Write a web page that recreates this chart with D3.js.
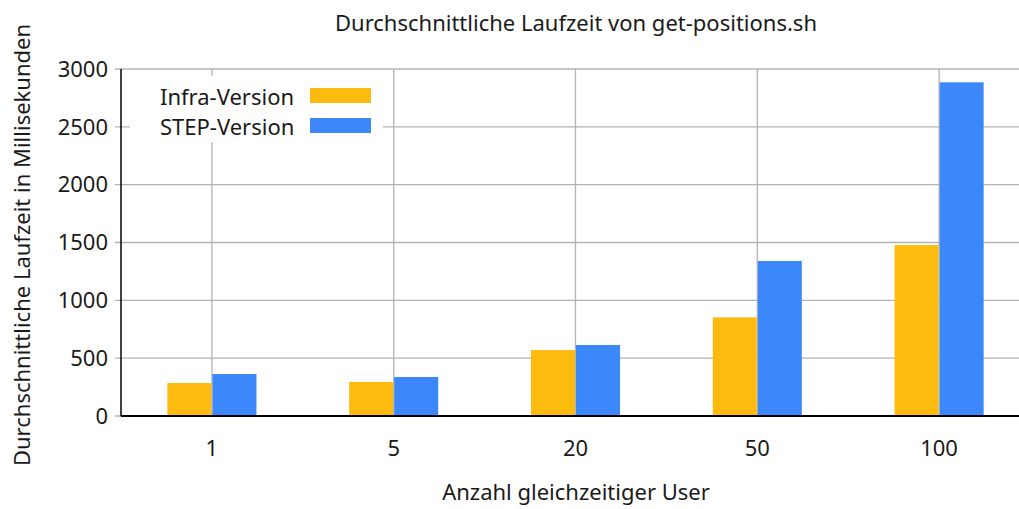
<!DOCTYPE html>
<html>
<head>
<meta charset="utf-8">
<script src="https://cdn.jsdelivr.net/npm/d3@7"></script>
<style>
  body { margin: 0; background: #fff; }
  svg { display: block; font-family: "Noto Sans", sans-serif; }
</style>
</head>
<body>
<svg id="chart" width="1019" height="509"></svg>
<script>
const categories = ["1", "5", "20", "50", "100"];
const seriesNames = ["Infra-Version", "STEP-Version"];
const infraValues = [285, 294, 570, 853, 1478];
const stepValues = [363, 337, 614, 1340, 2885];
const yTicks = [0, 500, 1000, 1500, 2000, 2500, 3000];
const colors = ["#fdbb10", "#3c88fb"];

const margin = { top: 69, right: -11, bottom: 93, left: 121 };
const width = 1019 - margin.left - margin.right;
const height = 509 - margin.top - margin.bottom;
const fs = 22;

const svg = d3.select("#chart");
const g = svg.append("g").attr("transform", `translate(${margin.left},${margin.top})`);

const x = d3.scaleBand().domain(categories).range([0, width]).padding(0);
const y = d3.scaleLinear().domain([0, 3000]).range([height, 0]);
const xInner = d3.scaleBand().domain(seriesNames).range([x.bandwidth() * 0.255, x.bandwidth() * 0.745]).padding(0);

// horizontal grid
g.append("g")
  .selectAll("line")
  .data(yTicks)
  .join("line")
  .attr("x1", -6).attr("x2", width)
  .attr("y1", d => y(d)).attr("y2", d => y(d))
  .attr("stroke", "#b3b3b3").attr("stroke-width", 1.3);

// vertical grid at category centres
g.append("g")
  .selectAll("line")
  .data(categories)
  .join("line")
  .attr("x1", d => x(d) + x.bandwidth() / 2).attr("x2", d => x(d) + x.bandwidth() / 2)
  .attr("y1", 0).attr("y2", height)
  .attr("stroke", "#b3b3b3").attr("stroke-width", 1.3);

// bars
const data = categories.map((c, i) => ({ cat: c, values: [infraValues[i], stepValues[i]] }));
g.append("g")
  .selectAll("g")
  .data(data)
  .join("g")
  .attr("transform", d => `translate(${x(d.cat)},0)`)
  .selectAll("rect")
  .data(d => d.values.map((v, i) => ({ name: seriesNames[i], value: v, i })))
  .join("rect")
  .attr("x", d => xInner(d.name) + (d.i ? 0.5 : 0))
  .attr("width", d => xInner.bandwidth() - 0.5)
  .attr("y", d => y(d.value))
  .attr("height", d => height - y(d.value))
  .attr("fill", d => colors[d.i]);

// axes lines
g.append("line").attr("x1", 0).attr("x2", 0).attr("y1", 0).attr("y2", height)
  .attr("stroke", "#000").attr("stroke-width", 1.5);
g.append("line").attr("x1", 0).attr("x2", width).attr("y1", height).attr("y2", height)
  .attr("stroke", "#000").attr("stroke-width", 1.8);

// y tick labels
g.append("g")
  .selectAll("text")
  .data(yTicks)
  .join("text")
  .attr("x", -13).attr("y", d => y(d))
  .attr("dy", "0.35em")
  .attr("text-anchor", "end")
  .attr("font-size", fs).attr("fill", "#1a1a1a")
  .text(d => d);

// x tick labels
g.append("g")
  .selectAll("text")
  .data(categories)
  .join("text")
  .attr("x", d => x(d) + x.bandwidth() / 2).attr("y", height + 40)
  .attr("text-anchor", "middle")
  .attr("font-size", fs).attr("fill", "#1a1a1a")
  .text(d => d);

// titles
svg.append("text").attr("x", 576).attr("y", 31).attr("text-anchor", "middle")
  .attr("font-size", fs).attr("fill", "#1a1a1a")
  .text("Durchschnittliche Laufzeit von get-positions.sh");
svg.append("text").attr("x", 576).attr("y", 500).attr("text-anchor", "middle")
  .attr("font-size", fs).attr("fill", "#1a1a1a")
  .text("Anzahl gleichzeitiger User");
svg.append("text").attr("transform", "translate(30,245) rotate(-90)").attr("text-anchor", "middle")
  .attr("font-size", fs).attr("fill", "#1a1a1a")
  .text("Durchschnittliche Laufzeit in Millisekunden");

// legend
const legend = svg.append("g").attr("transform", "translate(130,76)");
legend.append("rect").attr("x", 0).attr("y", 0).attr("width", 253).attr("height", 66).attr("fill", "#fff");
seriesNames.forEach((name, i) => {
  const row = legend.append("g").attr("transform", `translate(0,${i * 30})`);
  row.append("text").attr("x", 30).attr("y", 29).attr("font-size", fs).attr("fill", "#1a1a1a").text(name);
  row.append("rect").attr("x", 180).attr("y", 12).attr("width", 61).attr("height", 15).attr("fill", colors[i]);
});
</script>
</body>
</html>
